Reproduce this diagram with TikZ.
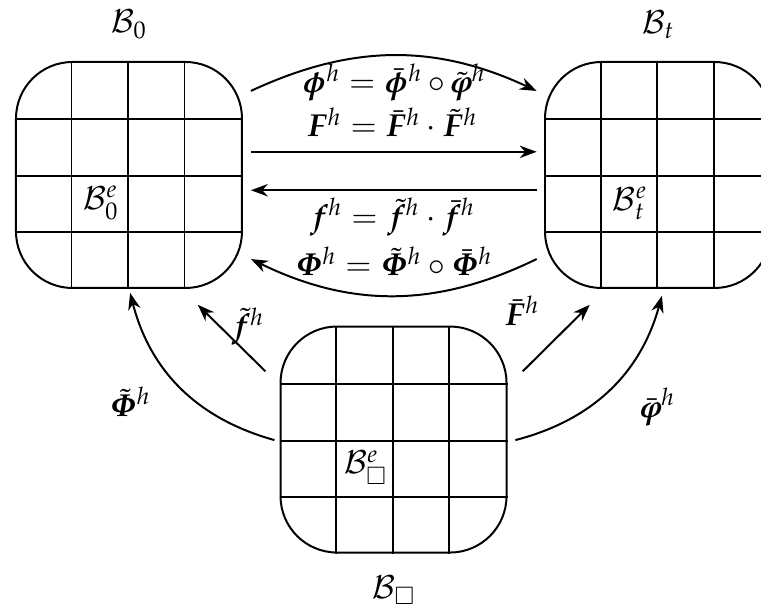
\documentclass[tikz,border=0pt]{standalone}
\usepackage{amsmath,amssymb}
\usepackage[slantedGreek]{mathpazo}
\usepackage{bm}
\usetikzlibrary{arrows.meta,positioning,calc}
\tikzset{
  body/.style={draw, line width=1pt, rounded corners=1cm, minimum size=4cm, inner sep=0pt},
  meshline/.style={line width=1pt},
  arr/.style={-{Stealth[length=3mm,width=2.2mm]}, line width=1pt},
  lbl/.style={font=\fontsize{16}{19}\selectfont, inner sep=1pt}
}

\begin{document}
\begin{tikzpicture}
    \useasboundingbox (0,0) rectangle (13.469,-10.743);
    \node[body] (ref) at (2.283,-3.097) {};
    \node[body] (cur) at (11.646,-3.097) {};
    \node[body] (par) at (6.965,-7.779) {};
    % inner mesh lines
    \foreach \bx in {ref,cur,par}{
      \foreach \i in {1,2,3}{
        \draw[meshline] ($(\bx.south west)+(\i,0)$) -- ($(\bx.north west)+(\i,0)$);
        \draw[meshline] ($(\bx.south west)+(0,\i)$) -- ($(\bx.south east)+(0,\i)$);
      }
    }
    \node[lbl, above=3.5mm of ref] (refname) {$\mathcal{B}_0$};
    \node[lbl, above=3.5mm of cur] (curname) {$\mathcal{B}_t$};
    \node[lbl, below=3.5mm of par] (parname) {$\mathcal{B}_\square$};
    \node[lbl] (refel) at ($(ref.center)+(-0.5,-0.5)$) {$\mathcal{B}_0^e$};
    \node[lbl] (curel) at ($(cur.center)+(-0.5,-0.5)$) {$\mathcal{B}_t^e$};
    \node[lbl] (parel) at ($(par.center)+(-0.5,-0.5)$) {$\mathcal{B}_\square^e$};
    % maps between configurations
    \node[lbl] (phimap) at (6.97,-1.46) {$\bm{\phi}^h = {\bar{\bm{\phi}}}^h \circ {\tilde{\bm{\varphi}}}^h$};
    \node[lbl] (Fmap) at (6.94,-2.16) {$\bm{F}^h = {\bar{\bm{F}}}^h \cdot {\tilde{\bm{F}}}^h$};
    \node[lbl] (fmap) at (6.94,-3.84) {$\bm{f}^h = {\tilde{\bm{f}}}^h \cdot {\bar{\bm{f}}}^h$};
    \node[lbl] (Phimap) at (6.97,-4.62) {$\bm{\Phi}^h = {\tilde{\bm{\Phi}}}^h \circ {\bar{\bm{\Phi}}}^h$};
    \node[lbl] (ftl) at (4.38,-5.78) {${\tilde{\bm{f}}}^h$};
    \node[lbl] (Fbl) at (9.24,-5.50) {${\bar{\bm{F}}}^h$};
    \node[lbl] (Phitl) at (2.30,-7.11) {${\tilde{\bm{\Phi}}}^h$};
    \node[lbl] (phibl) at (11.65,-7.20) {${\bar{\bm{\varphi}}}^h$};
    \draw[arr] ($(ref.north east)+(0.14,-0.53)$) to[bend left=25] ($(cur.north west)+(-0.13,-0.53)$);
    \draw[arr] ($(ref.east)+(0.14,0.41)$) -- ($(cur.west)+(-0.13,0.41)$);
    \draw[arr] ($(cur.west)+(-0.13,-0.27)$) -- ($(ref.east)+(0.14,-0.27)$);
    \draw[arr] ($(cur.south west)+(-0.13,0.53)$) to[bend left=26] ($(ref.south east)+(0.14,0.53)$);
    \draw[arr] ($(par.north west)+(-0.25,-0.81)$) -- ($(ref.south east)+(-0.80,-0.28)$);
    \draw[arr] ($(par.west)+(-0.09,-0.01)$) to[bend left=30] ($(ref.south)+(0.02,-0.07)$);
    \draw[arr] ($(par.north east)+(0.27,-0.81)$) -- ($(cur.south west)+(0.81,-0.28)$);
    \draw[arr] ($(par.east)+(0.14,-0.01)$) to[bend right=30] ($(cur.south)+(0.07,-0.12)$);
\end{tikzpicture}
\end{document}
